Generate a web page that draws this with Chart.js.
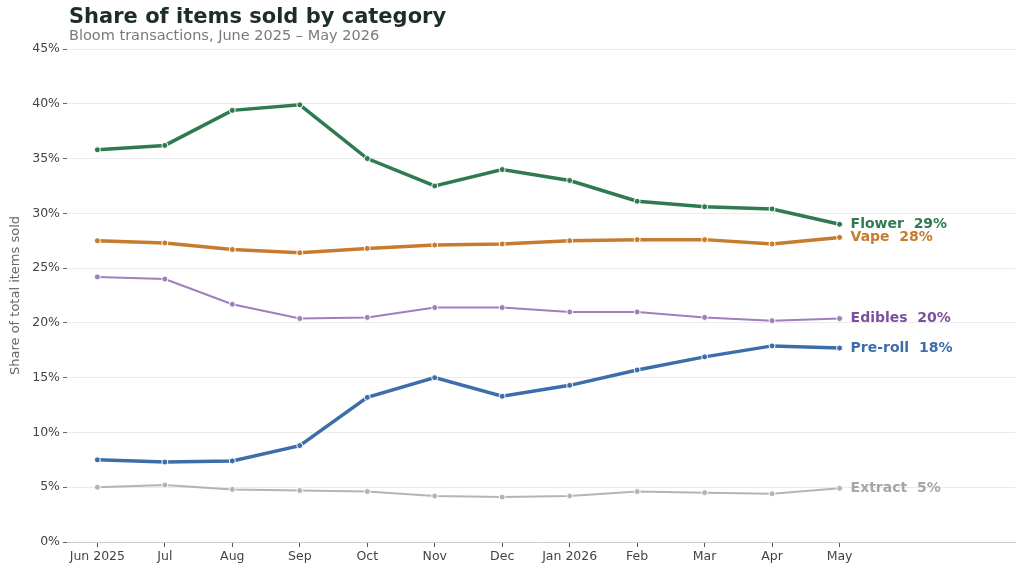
<!DOCTYPE html>
<html>
<head>
<meta charset="utf-8">
<script src="https://cdn.jsdelivr.net/npm/chart.js@4.4.0/dist/chart.umd.min.js"></script>
<style>
  html, body { margin: 0; padding: 0; background: #fff; }
  #wrap { width: 1024px; height: 573px; }
</style>
</head>
<body>
<div id="wrap"><canvas id="share-chart" width="1024" height="573"></canvas></div>
<script>
const months = ['Jun 2025', 'Jul', 'Aug', 'Sep', 'Oct', 'Nov', 'Dec', 'Jan 2026', 'Feb', 'Mar', 'Apr', 'May'];
const yTicks = [0, 5, 10, 15, 20, 25, 30, 35, 40, 45];

const flower = [35.8, 36.2, 39.4, 39.9, 35.0, 32.5, 34.0, 33.0, 31.1, 30.6, 30.4, 29.0];
const vape = [27.5, 27.3, 26.7, 26.4, 26.8, 27.1, 27.2, 27.5, 27.6, 27.6, 27.2, 27.8];
const edibles = [24.2, 24.0, 21.7, 20.4, 20.5, 21.4, 21.4, 21.0, 21.0, 20.5, 20.2, 20.4];
const preroll = [7.5, 7.3, 7.4, 8.8, 13.2, 15.0, 13.3, 14.3, 15.7, 16.9, 17.9, 17.7];
const extract = [5.0, 5.2, 4.8, 4.7, 4.6, 4.2, 4.1, 4.2, 4.6, 4.5, 4.4, 4.9];

const series = [
    {name: 'Flower', data: flower, line: '#2f7a50', label: '#2f7a50', width: 3.5},
    {name: 'Vape', data: vape, line: '#c67c2c', label: '#c67c2c', width: 3.5},
    {name: 'Edibles', data: edibles, line: '#9d7fbb', label: '#7a509f', width: 2},
    {name: 'Pre-roll', data: preroll, line: '#3d6ea9', label: '#3d6ea9', width: 3.5},
    {name: 'Extract', data: extract, line: '#b4b4b4', label: '#a6a6a6', width: 2},
];

const FONT = "'DejaVu Sans', sans-serif";

// labels at the end of each line
const endLabels = {
    id: 'endLabels',
    afterDatasetsDraw(chart) {
        const ctx = chart.ctx;
        ctx.save();
        ctx.font = 'bold 14px ' + FONT;
        ctx.textBaseline = 'middle';
        ctx.textAlign = 'left';
        chart.data.datasets.forEach((ds, i) => {
            const meta = chart.getDatasetMeta(i);
            const pt = meta.data[meta.data.length - 1];
            const val = ds.data[ds.data.length - 1].y;
            ctx.fillStyle = series[i].label;
            ctx.fillText(series[i].name + '  ' + Math.round(val) + '%', pt.x + 11, pt.y);
        });
        ctx.restore();
    }
};

const headings = {
    id: 'headings',
    afterDraw(chart) {
        const ctx = chart.ctx;
        const left = chart.chartArea.left + 2;
        ctx.save();
        ctx.textAlign = 'left';
        ctx.textBaseline = 'middle';
        ctx.fillStyle = '#1f2d2a';
        ctx.font = 'bold 21px ' + FONT;
        ctx.fillText('Share of items sold by category', left, 18);
        ctx.fillStyle = '#7a7a7a';
        ctx.font = '14.5px ' + FONT;
        ctx.fillText('Bloom transactions, June 2025 \u2013 May 2026', left, 36);
        ctx.restore();
    }
};

new Chart(document.getElementById('share-chart'), {
    type: 'line',
    data: {
        datasets: series.map(s => ({
            label: s.name,
            data: s.data.map((v, i) => ({x: i, y: v})),
            borderColor: s.line,
            backgroundColor: s.line,
            borderWidth: s.width,
            pointRadius: 3,
            pointBorderColor: '#ffffff',
            pointBorderWidth: 1,
            pointBackgroundColor: s.line,
            tension: 0,
        }))
    },
    options: {
        responsive: false,
        animation: false,
        layout: {padding: {top: 49, right: 9, left: 0, bottom: 0}},
        plugins: {
            legend: {display: false},
            tooltip: {enabled: false},
            title: {display: false},
        },
        scales: {
            x: {
                type: 'linear',
                min: -0.45,
                max: 13.6,
                afterBuildTicks: (scale) => {
                    scale.ticks = months.map((m, i) => ({value: i}));
                },
                afterFit: (scale) => { scale.height = 31; },
                ticks: {
                    autoSkip: false,
                    maxRotation: 0,
                    color: '#444',
                    font: {family: FONT, size: 12.5},
                    padding: 2,
                    callback: (v) => months[v] ?? '',
                },
                grid: {drawOnChartArea: false, drawTicks: true, tickLength: 5, tickColor: '#555'},
                border: {display: true, color: '#cccccc', width: 1},
            },
            y: {
                min: 0,
                max: 45,
                afterBuildTicks: (scale) => {
                    scale.ticks = yTicks.map(v => ({value: v}));
                },
                afterFit: (scale) => { scale.width = 67; },
                ticks: {
                    color: '#444',
                    font: {family: FONT, size: 12.5},
                    padding: 3,
                    callback: (v) => v + '%',
                },
                grid: {color: '#ebebeb', lineWidth: 1, tickLength: 4, tickColor: '#666'},
                border: {display: false},
                title: {
                    display: true,
                    text: 'Share of total items sold',
                    color: '#666',
                    font: {family: FONT, size: 13},
                    padding: {top: 8, bottom: 0},
                },
            },
        },
    },
    plugins: [endLabels, headings],
});
</script>
</body>
</html>
